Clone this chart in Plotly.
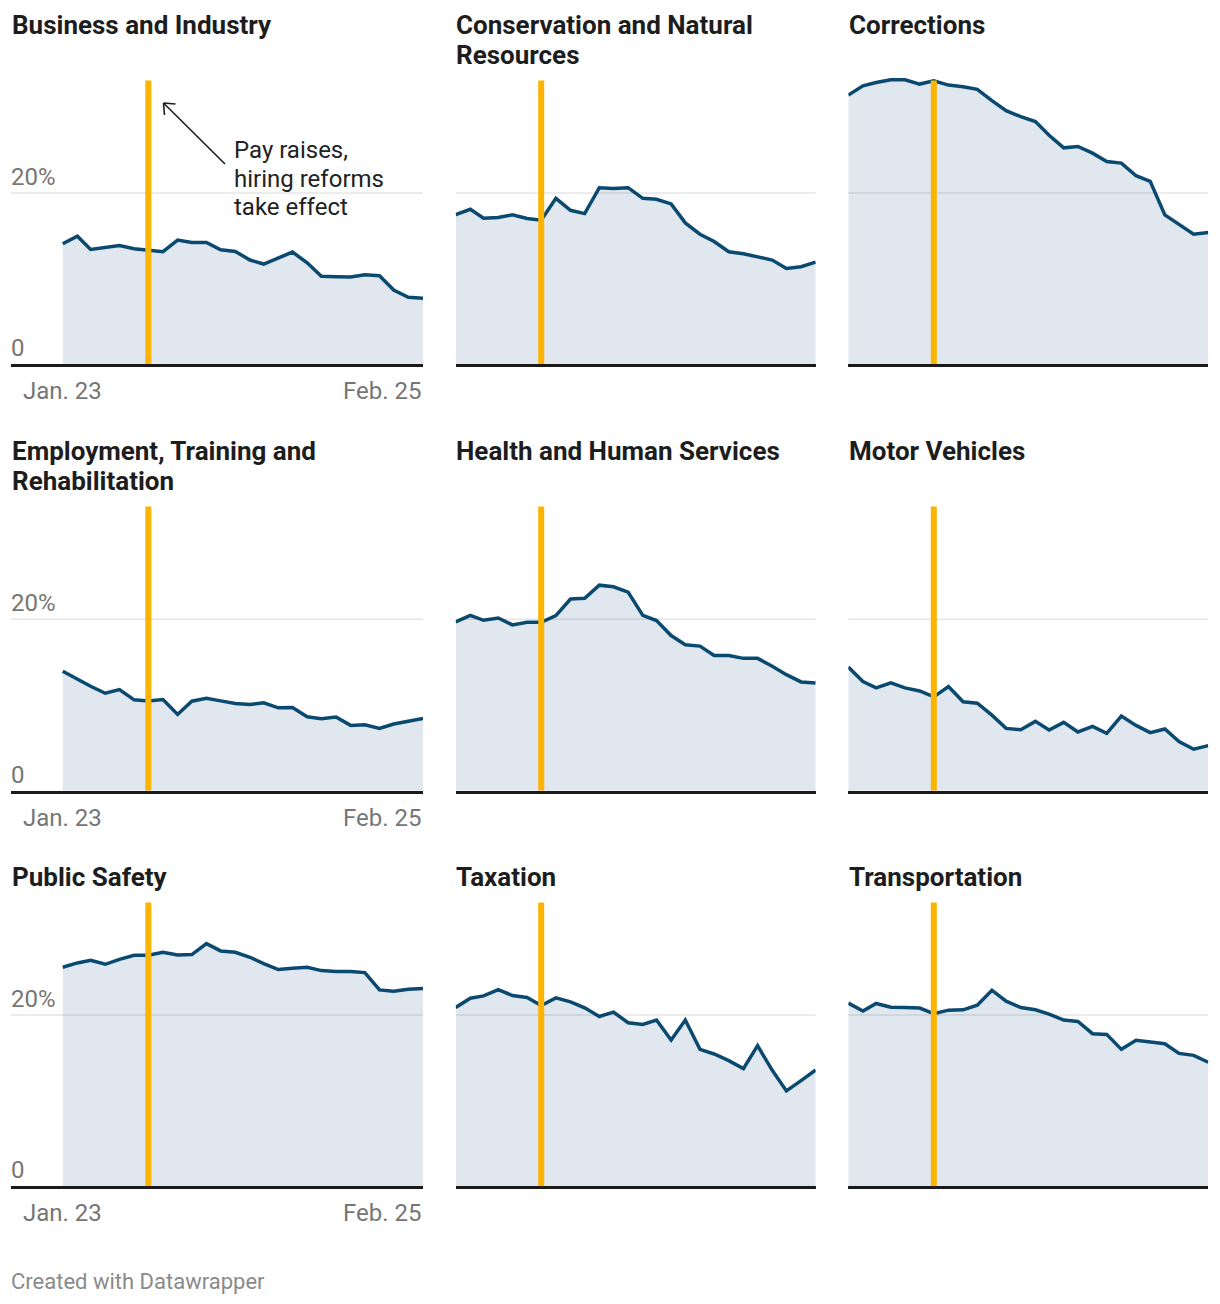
import plotly.graph_objects as go
import pandas as pd

# ---------------- data ----------------
months = pd.date_range("2023-01-01", "2025-02-01", freq="MS")
event_date = "2023-07-01"
first_label = "Jan. 23"
last_label = "Feb. 25"
y_ticks = [0, 20]
y_tick_text = ["0", "20%"]

titles = [
    ["Business and Industry"],
    ["Conservation and Natural", "Resources"],
    ["Corrections"],
    ["Employment, Training and", "Rehabilitation"],
    ["Health and Human Services"],
    ["Motor Vehicles"],
    ["Public Safety"],
    ["Taxation"],
    ["Transportation"],
]

business = [14.06, 14.95, 13.40, 13.67, 13.86, 13.48, 13.32, 13.13, 14.49, 14.21, 14.21, 13.36, 13.17,
            12.16, 11.69, 12.43, 13.09, 11.84, 10.25, 10.21, 10.17, 10.45, 10.33, 8.66, 7.81, 7.69]
conservation = [17.48, 18.10, 17.05, 17.13, 17.44, 17.01, 16.82, 19.38, 17.98, 17.59, 20.62, 20.54, 20.62,
                19.38, 19.26, 18.72, 16.50, 15.18, 14.33, 13.13, 12.89, 12.54, 12.16, 11.18, 11.38, 11.92]
corrections = [31.46, 32.54, 32.93, 33.24, 33.24, 32.74, 33.13, 32.62, 32.43, 32.12, 30.80, 29.63, 28.93,
               28.35, 26.76, 25.28, 25.44, 24.66, 23.69, 23.50, 22.02, 21.36, 17.44, 16.35, 15.18, 15.38]
employment = [13.93, 12.96, 12.19, 11.37, 11.80, 10.60, 10.48, 10.64, 8.90, 10.44, 10.79, 10.48, 10.17,
              10.06, 10.25, 9.67, 9.71, 8.63, 8.39, 8.59, 7.62, 7.70, 7.27, 7.78, 8.09, 8.43]
health = [19.69, 20.46, 19.88, 20.15, 19.34, 19.65, 19.65, 20.43, 22.36, 22.44, 23.98, 23.79, 23.17,
          20.46, 19.85, 18.10, 17.02, 16.87, 15.78, 15.78, 15.44, 15.44, 14.51, 13.54, 12.69, 12.57]
motor = [14.43, 12.73, 11.99, 12.57, 11.99, 11.64, 10.95, 12.15, 10.37, 10.21, 8.82, 7.27, 7.12,
         8.09, 7.08, 7.97, 6.85, 7.50, 6.69, 8.70, 7.62, 6.77, 7.20, 5.73, 4.84, 5.26]
public_safety = [25.59, 26.10, 26.41, 25.94, 26.52, 26.99, 26.99, 27.34, 27.03, 27.07, 28.35, 27.50, 27.34,
                 26.76, 26.02, 25.32, 25.48, 25.59, 25.20, 25.09, 25.09, 24.97, 22.95, 22.80, 23.03, 23.11]
taxation = [20.89, 21.98, 22.25, 22.99, 22.29, 22.06, 21.13, 22.02, 21.55, 20.85, 19.84, 20.35, 19.11,
            18.91, 19.42, 17.09, 19.42, 16.00, 15.46, 14.68, 13.75, 16.43, 13.55, 11.15, 12.35, 13.59]
transportation = [21.40, 20.47, 21.36, 20.93, 20.89, 20.82, 20.16, 20.58, 20.62, 21.17, 22.91, 21.63, 20.89,
                  20.62, 20.12, 19.42, 19.26, 17.83, 17.75, 16.00, 17.05, 16.85, 16.66, 15.53, 15.30, 14.49]

series = [business, conservation, corrections, employment, health, motor,
          public_safety, taxation, transportation]

annotation_lines = ["Pay raises,", "hiring reforms", "take effect"]
footer_text = "Created with Datawrapper"

# ---------------- styling / layout ----------------
OFF = 8  # page body margin
W, H = 1220 - 2 * OFF, 1304 - 2 * OFF
FONT = "Roboto"
LINE = "#0b4a70"
FILL = "#e0e7ee"
ORANGE = "#fdb400"
LABEL_GRAY = "#767676"
TITLE_COLOR = "#1d1d1d"


def px(x):
    return (x - OFF) / W


def py(y):
    return 1 - (y - OFF) / H


col_dom = [(11, 423), (455.7, 815.7), (848.3, 1208.3)]
row_dom = [(78, 364), (504, 790.7), (900, 1186.3)]
title_mid = [25, 451, 877]
title_left = [10, 454, 847]
TITLE_LH = 30
Y_MAX = 33.45

start = months[0]
end = months[-1]
span_days = (end - start).days
left_ext_days = span_days * (62.7 - 11) / 360.0
x_ranges = [
    [start - pd.Timedelta(days=left_ext_days), end],
    [start, end],
    [start, end],
]

fig = go.Figure()
shapes = []
annotations = []

for i, vals in enumerate(series):
    r, c = divmod(i, 3)
    n = i + 1
    xa = "x" if n == 1 else f"x{n}"
    ya = "y" if n == 1 else f"y{n}"
    fig.add_trace(go.Scatter(
        x=months, y=vals, xaxis=xa, yaxis=ya, mode="lines",
        fill="tozeroy", fillcolor=FILL,
        line=dict(color=LINE, width=3.5), hoverinfo="skip", showlegend=False,
    ))
    x0, x1 = col_dom[c]
    ytop, ybot = row_dom[r]
    fig.update_layout(**{
        ("xaxis" if n == 1 else f"xaxis{n}"): dict(
            domain=[px(x0), px(x1)], range=x_ranges[c], anchor=ya,
            showline=True, linecolor="#1a1a1a", linewidth=2.5, layer="above traces",
            showgrid=False, zeroline=False, showticklabels=False, ticks="",
            fixedrange=True),
        ("yaxis" if n == 1 else f"yaxis{n}"): dict(
            domain=[py(ybot), py(ytop)], range=[0, Y_MAX], anchor=xa,
            visible=False, fixedrange=True),
    })
    shapes.append(dict(type="line", xref=f"{xa} domain", yref=ya, x0=0, x1=1,
                       y0=y_ticks[1], y1=y_ticks[1],
                       line=dict(color="rgba(0,0,0,0.1)", width=1.5), layer="above"))
    shapes.append(dict(type="line", xref=xa, yref=ya, x0=event_date, x1=event_date,
                       y0=0, y1=33.15, line=dict(color=ORANGE, width=6), layer="above"))
    for k, line in enumerate(titles[i]):
        annotations.append(dict(text=line, xref="paper", yref="paper",
                                x=px(title_left[c]), y=py(title_mid[r] + k * TITLE_LH),
                                xanchor="left", yanchor="middle", align="left", showarrow=False,
                                font=dict(family=FONT, size=26, color=TITLE_COLOR, weight=700)))
    if c == 0:
        for tv, tt in zip(y_ticks, y_tick_text):
            annotations.append(dict(text=tt, xref="paper", yref=ya, x=px(9), y=tv,
                                    xanchor="left", yanchor="bottom", yshift=0, showarrow=False,
                                    font=dict(family=FONT, size=24, color=LABEL_GRAY)))
        annotations.append(dict(text=first_label, xref=xa, yref=ya, x=months[0], y=0,
                                xanchor="center", yanchor="middle", yshift=-27, showarrow=False,
                                font=dict(family=FONT, size=24, color=LABEL_GRAY)))
        annotations.append(dict(text=last_label, xref=xa, yref=ya, x=months[-1], y=0,
                                xanchor="right", yanchor="middle", yshift=-27, showarrow=False,
                                font=dict(family=FONT, size=24, color=LABEL_GRAY)))

for k, line in enumerate(annotation_lines):
    annotations.append(dict(text=line, xref="paper", yref="paper",
                            x=px(232), y=py(150 + k * 28.6), xanchor="left", yanchor="middle",
                            align="left", showarrow=False,
                            font=dict(family=FONT, size=24, color="#222222")))
arrow_col = "#1d1d1d"
for (ax0, ay0, ax1, ay1) in [(225, 164, 163.5, 103), (163.5, 103, 175.5, 104), (163.5, 103, 164.5, 115)]:
    shapes.append(dict(type="line", xref="paper", yref="paper",
                       x0=px(ax0), y0=py(ay0), x1=px(ax1), y1=py(ay1),
                       line=dict(color=arrow_col, width=1.6), layer="above"))

annotations.append(dict(text=footer_text, xref="paper", yref="paper",
                        x=px(9), y=py(1281), xanchor="left", yanchor="middle", showarrow=False,
                        font=dict(family=FONT, size=22, color="#8a8a8a")))

fig.update_layout(
    width=W, height=H, margin=dict(l=0, r=0, t=0, b=0),
    paper_bgcolor="white", plot_bgcolor="rgba(0,0,0,0)",
    shapes=shapes, annotations=annotations, showlegend=False,
    font=dict(family=FONT),
)

fig.write_html("out.html", config={"displayModeBar": False})
